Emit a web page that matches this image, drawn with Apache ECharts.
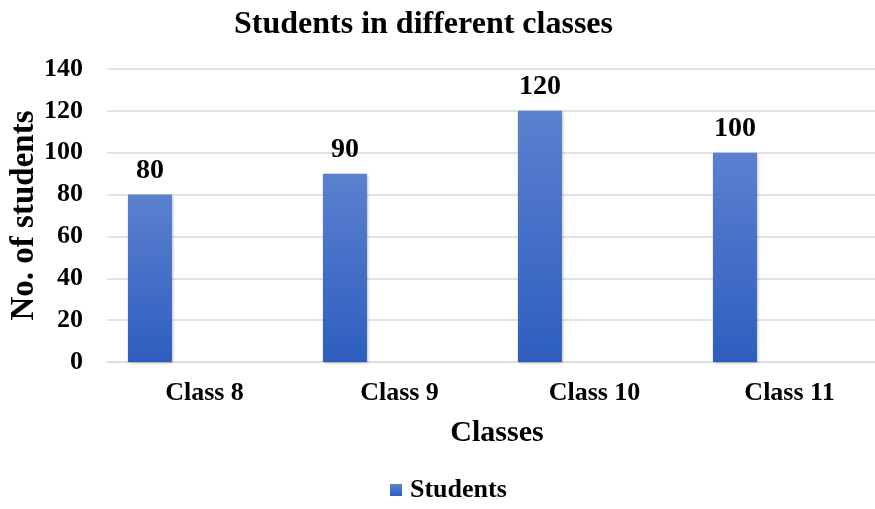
<!DOCTYPE html>
<html><head><meta charset="utf-8">
<script src="https://cdn.jsdelivr.net/npm/echarts@6/dist/echarts.min.js"></script>
<style>html,body{margin:0;padding:0;background:#fff}#c{width:875px;height:509px}</style>
</head><body><div id="c"></div>
<script>
const categories = ['Class 8', 'Class 9', 'Class 10', 'Class 11'];
const students = [80, 90, 120, 100];
const yTicks = [0, 20, 40, 60, 80, 100, 120, 140];

const FONT = '"Liberation Serif", "Times New Roman", serif';
const chart = echarts.init(document.getElementById('c'));
chart.setOption({
  backgroundColor: '#fff',
  animation: false,
  title: {
    text: 'Students in different classes', left: 229, top: 4,
    textStyle: { fontFamily: FONT, fontWeight: 'bold', fontSize: 32, color: '#000' }
  },
  legend: {
    data: ['Students'], bottom: 1, left: 385, itemWidth: 12, itemHeight: 12, itemGap: 8,
    icon: 'rect',
    textStyle: { fontFamily: FONT, fontWeight: 'bold', fontSize: 26, color: '#000', padding: [0, 0, 0, 3] }
  },
  grid: { left: 107, right: -12, top: 69, bottom: 147, containLabel: false, outerBoundsMode: 'none' },
  xAxis: {
    type: 'category', data: categories,
    name: 'Classes', nameLocation: 'middle', nameGap: 56, nameMoveOverlap: false,
    nameTextStyle: { fontFamily: FONT, fontWeight: 'bold', fontSize: 30, color: '#000' },
    axisLine: { show: true, lineStyle: { color: '#d9d9d9', width: 1 } },
    axisTick: { show: false },
    axisLabel: { margin: 18, fontFamily: FONT, fontWeight: 'bold', fontSize: 26, color: '#000' }
  },
  yAxis: {
    type: 'value', min: yTicks[0], max: yTicks[yTicks.length - 1], interval: 20,
    name: 'No. of students', nameLocation: 'middle', nameGap: 66, nameMoveOverlap: false,
    nameTextStyle: { fontFamily: FONT, fontWeight: 'bold', fontSize: 33, color: '#000' },
    axisLine: { show: false }, axisTick: { show: false },
    axisLabel: { margin: 24, fontFamily: FONT, fontWeight: 'bold', fontSize: 26, color: '#000' },
    splitLine: { lineStyle: { color: '#d9d9d9', width: 1.5 } }
  },
  series: [
    {
      name: 'Students', type: 'bar', data: students, barWidth: 44, barGap: '148%',
      itemStyle: {
        color: new echarts.graphic.LinearGradient(0, 0, 0, 1, [
          { offset: 0, color: '#5b80cf' }, { offset: 1, color: '#2d5ebf' }
        ]),
        shadowBlur: 3, shadowColor: 'rgba(0,0,0,0.35)', shadowOffsetX: 1, shadowOffsetY: 1
      },
      label: {
        show: true, position: 'top', distance: 10,
        fontFamily: FONT, fontWeight: 'bold', fontSize: 28, color: '#000'
      }
    },
    {
      name: 'spacer', type: 'bar', data: categories.map(() => null), barWidth: 44
    }
  ]
});
</script></body></html>
